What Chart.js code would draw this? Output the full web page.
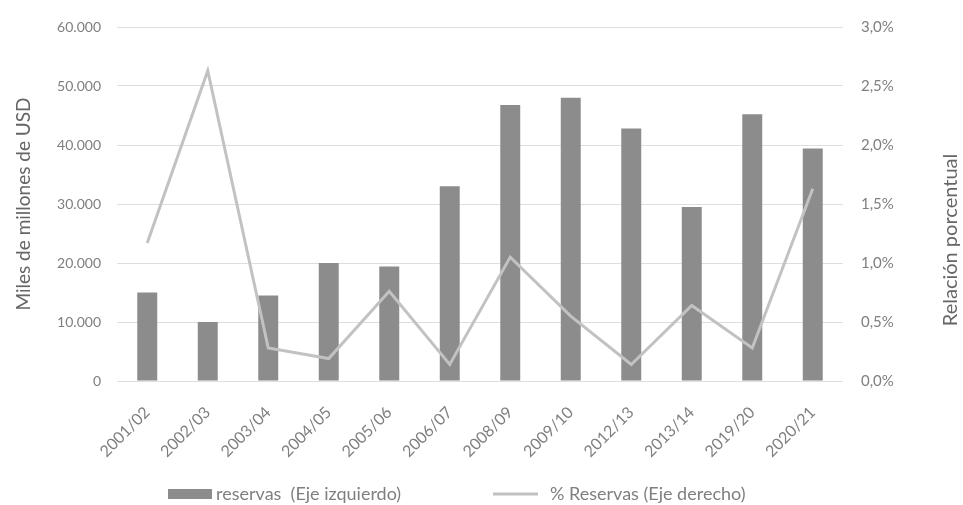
<!DOCTYPE html>
<html>
<head>
<meta charset="utf-8">
<script src="https://cdn.jsdelivr.net/npm/chart.js@4/dist/chart.umd.min.js"></script>
<style>
  html, body { margin: 0; padding: 0; background: #fff; }
  #wrap { width: 963px; height: 505px; position: relative; }
</style>
</head>
<body>
<div id="wrap"><canvas id="c" width="963" height="505"></canvas></div>
<script>
// Reserves by fiscal year (thousands of millions of USD) and reserves as a percentage
const periods = ['2001/02','2002/03','2003/04','2004/05','2005/06','2006/07','2008/09','2009/10','2012/13','2013/14','2019/20','2020/21'];
const reservas = [15000, 10000, 14500, 20000, 19400, 33000, 46800, 48000, 42800, 29500, 45200, 39400];
const pctReservas = [1.17, 2.63, 0.28, 0.19, 0.76, 0.14, 1.05, 0.55, 0.14, 0.64, 0.28, 1.63];

const FONT = 'Lato, "Open Sans", sans-serif';
const TXT = '#7f7f7f';
const TITLE = '#666666';

Chart.defaults.font.family = FONT;
Chart.defaults.color = TXT;

// Right-hand axis title written bottom-to-top, plus the legend row under the axis labels
const extras = {
  id: 'extras',
  afterDraw(chart) {
    const ctx = chart.ctx;
    ctx.save();
    ctx.fillStyle = TITLE;
    ctx.font = '20px ' + FONT;
    ctx.textAlign = 'center';
    ctx.textBaseline = 'middle';
    ctx.translate(951, 240);
    ctx.rotate(-Math.PI / 2);
    ctx.fillText('Relación porcentual', 0, 0);
    ctx.restore();

    const items = chart.legend.legendItems;
    const y = 494;
    ctx.save();
    ctx.font = '18px ' + FONT;
    ctx.textBaseline = 'middle';
    ctx.textAlign = 'left';
    const bar = items.find(i => i.datasetIndex === 1);
    const line = items.find(i => i.datasetIndex === 0);
    // bar swatch
    ctx.fillStyle = bar.fillStyle;
    ctx.fillRect(168, y - 5, 44, 10);
    ctx.fillStyle = TXT;
    ctx.fillText(bar.text, 216, y);
    // line swatch
    ctx.strokeStyle = line.strokeStyle;
    ctx.lineWidth = 3;
    ctx.beginPath();
    ctx.moveTo(493, y);
    ctx.lineTo(538, y);
    ctx.stroke();
    ctx.fillText(line.text, 550, y);
    ctx.restore();
  }
};

new Chart(document.getElementById('c'), {
  type: 'bar',
  data: {
    labels: periods,
    datasets: [
      {
        type: 'line',
        label: '% Reservas (Eje derecho)',
        data: pctReservas,
        yAxisID: 'y1',
        borderColor: '#c2c2c2',
        backgroundColor: '#c2c2c2',
        borderWidth: 3,
        pointRadius: 0,
        tension: 0,
        order: 0
      },
      {
        type: 'bar',
        label: 'reservas  (Eje izquierdo)',
        data: reservas,
        yAxisID: 'y',
        backgroundColor: '#8c8c8c',
        barPercentage: 0.33,
        categoryPercentage: 1.0,
        order: 1
      }
    ]
  },
  plugins: [extras],
  options: {
    responsive: false,
    animation: false,
    layout: { padding: { top: 18, left: 0, right: 0, bottom: 0 } },
    plugins: {
      tooltip: { enabled: false },
      legend: { display: false }
    },
    scales: {
      x: {
        grid: { display: false },
        border: { display: false },
        ticks: {
          minRotation: 45,
          maxRotation: 45,
          color: TXT,
          font: { size: 16 },
          padding: 14
        },
        afterFit: s => { s.height = 124; }
      },
      y: {
        position: 'left',
        min: 0,
        max: 60000,
        ticks: {
          stepSize: 10000,
          color: TXT,
          font: { size: 14 },
          padding: 16,
          callback: v => v.toLocaleString('de-DE')
        },
        grid: { color: '#dedede', lineWidth: 1, drawTicks: false },
        border: { display: false },
        title: {
          display: true,
          text: 'Miles de millones de USD',
          color: TITLE,
          font: { size: 19 },
          padding: { top: 12, bottom: 0 }
        },
        afterFit: s => { s.width = 117; }
      },
      y1: {
        position: 'right',
        min: 0,
        max: 3,
        ticks: {
          stepSize: 0.5,
          color: TXT,
          font: { size: 15 },
          padding: 18,
          callback: v => v.toFixed(1).replace('.', ',') + '%'
        },
        grid: { display: false, drawTicks: false },
        border: { display: false },
        afterFit: s => { s.width = 120; }
      }
    }
  }
});
</script>
</body>
</html>
